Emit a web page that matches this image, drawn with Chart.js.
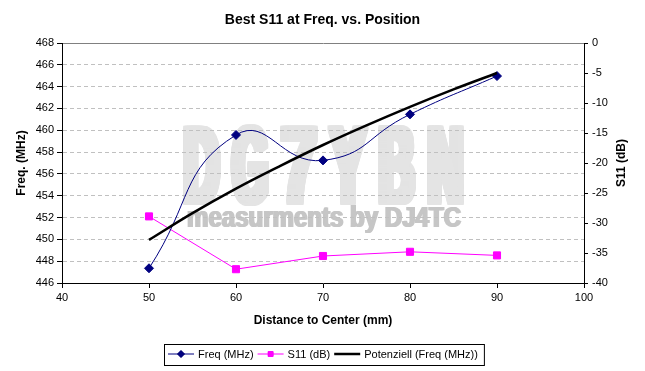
<!DOCTYPE html>
<html><head><meta charset="utf-8">
<script src="https://cdn.jsdelivr.net/npm/chart.js@4"></script>
<style>html,body{margin:0;padding:0;background:#fff}</style>
</head><body>
<canvas id="c" width="645" height="371"></canvas>
<script>
const distances = [50, 60, 70, 80, 90];
const freqMHz = [447.35, 459.57, 457.24, 461.46, 464.97];
const s11dB = [-28.9, -37.7, -35.5, -34.8, -35.4];
const trendDistances = [50, 55, 60, 65, 70, 75, 80, 85, 90];
const trendFreq = [449.95, 452.4, 454.65, 456.7, 458.65, 460.45, 462.15, 463.75, 465.25];
const titleText = 'Best S11 at Freq. vs. Position';
const xTitle = 'Distance to Center (mm)';
const yTitle = 'Freq. (MHz)';
const y2Title = 'S11 (dB)';
const legendNames = ['Freq (MHz)', 'S11 (dB)', 'Potenziell (Freq (MHz))'];
const watermark1 = 'DG7YBN';
const watermark2 = 'measurments by DJ4TC';

const FONT = "'Liberation Sans', Arial, sans-serif";
const pts = (xs, ys) => xs.map((x, i) => ({x: x, y: ys[i]}));

function heavyText(ctx, text, font, color, left, baseline, width, spreadX, spreadY) {
  ctx.save();
  ctx.textBaseline = 'alphabetic';
  ctx.textAlign = 'left';
  ctx.font = font;
  const w = ctx.measureText(text).width;
  ctx.fillStyle = color;
  const sx = (width - 2 * spreadX) / w;
  for (let dx = -spreadX; dx <= spreadX; dx += 1) {
    for (let dy = -spreadY; dy <= spreadY; dy += 1) {
      ctx.setTransform(sx, 0, 0, 1, left + spreadX + dx, baseline + dy);
      ctx.fillText(text, 0, 0);
    }
  }
  ctx.restore();
}

const watermarkPlugin = {
  id: 'wm',
  beforeDraw(chart) {
    const ctx = chart.ctx;
    const chars = watermark1.split('');
    const slot = 48.8, glyphW = 43;
    chars.forEach((ch, i) => {
      heavyText(ctx, ch, 'bold 110px ' + FONT, '#e4e4e4', 180 + i * slot, 203, glyphW, 4, 2);
    });
    heavyText(ctx, watermark2, 'bold 30px ' + FONT, '#c6c6c6', 186, 227, 276, 1, 0);
  }
};

const extrasPlugin = {
  id: 'extras',
  afterDraw(chart) {
    const ctx = chart.ctx;
    const ca = chart.chartArea;
    ctx.save();
    ctx.font = 'bold 12px ' + FONT;
    ctx.fillStyle = '#000';
    ctx.textAlign = 'center';
    ctx.textBaseline = 'middle';
    ctx.translate(622, (ca.top + ca.bottom) / 2);
    ctx.rotate(-Math.PI / 2);
    ctx.fillText(y2Title, 0, 0);
    ctx.restore();

    ctx.save();
    ctx.font = '11px ' + FONT;
    ctx.textBaseline = 'middle';
    ctx.textAlign = 'left';
    const cy = 354;
    const ds = chart.data.datasets;
    const legendRadius = [3.5, 3.5, 0];
    let x = 168;
    const lineLen = 26;
    const boxLeft = 164;
    for (let i = 0; i < ds.length; i++) {
      const d = ds[i];
      ctx.strokeStyle = d.borderColor;
      ctx.lineWidth = i === 2 ? 2.5 : 1;
      ctx.beginPath();
      ctx.moveTo(x, cy); ctx.lineTo(x + lineLen, cy); ctx.stroke();
      if (legendRadius[i] > 0) {
        Chart.helpers.drawPoint(ctx, {pointStyle: d.pointStyle, radius: legendRadius[i], borderWidth: 1, rotation: 0}, x + lineLen / 2, cy);
        ctx.fillStyle = d.pointBackgroundColor;
        ctx.fill();
      }
      x += lineLen + 4;
      ctx.fillStyle = '#000';
      ctx.fillText(legendNames[i], x, cy + 0.5);
      x += ctx.measureText(legendNames[i]).width + 4;
    }
    ctx.strokeStyle = '#000';
    ctx.lineWidth = 1;
    ctx.strokeRect(boxLeft + 0.5, 344.5, Math.max(x + 2, 480) - boxLeft, 21);
    ctx.restore();
  }
};

new Chart(document.getElementById('c'), {
  type: 'line',
  data: {
    datasets: [
      {
        label: legendNames[0], data: pts(distances, freqMHz), yAxisID: 'y',
        borderColor: '#000080', backgroundColor: '#000080', borderWidth: 1,
        pointStyle: 'rectRot', pointRadius: 4.5, pointBackgroundColor: '#000080', pointBorderColor: '#000080',
        tension: 0.5, order: 2
      },
      {
        label: legendNames[1], data: pts(distances, s11dB), yAxisID: 'y2',
        borderColor: '#ff00ff', backgroundColor: '#ff00ff', borderWidth: 1,
        pointStyle: 'rect', pointRadius: 5, pointBackgroundColor: '#ff00ff', pointBorderColor: '#ff00ff',
        tension: 0, order: 3
      },
      {
        label: legendNames[2], data: pts(trendDistances, trendFreq), yAxisID: 'y',
        borderColor: '#000000', backgroundColor: '#000000', borderWidth: 2.5,
        pointRadius: 0, pointStyle: false, tension: 0.4, order: 1
      }
    ]
  },
  options: {
    responsive: false,
    animation: false,
    layout: {padding: 0},
    plugins: {
      legend: {display: false},
      tooltip: {enabled: false},
      title: {
        display: true, text: titleText, color: '#000',
        font: {family: FONT, size: 14, weight: 'bold'},
        padding: {top: 12, bottom: 14.2}
      }
    },
    scales: {
      x: {
        type: 'linear', min: 40, max: 100,
        ticks: {stepSize: 10, color: '#000', font: {family: FONT, size: 11}, padding: 3, maxRotation: 0},
        grid: {drawOnChartArea: false, drawTicks: true, tickLength: 5, tickColor: '#000'},
        border: {color: '#000', width: 1},
        title: {display: true, text: xTitle, color: '#000', font: {family: FONT, size: 12, weight: 'bold'}, padding: {top: 0, bottom: 42.8}},
        afterFit(s) { s.height = 88; }
      },
      y: {
        position: 'left', min: 446, max: 468,
        ticks: {stepSize: 2, color: '#000', font: {family: FONT, size: 11}, padding: 3},
        grid: {
          drawOnChartArea: true, drawTicks: true, tickLength: 5, tickColor: '#000',
          color: (c) => (c.tick && c.tick.value === 468) ? '#808080' : (c.tick && c.tick.value === 446 ? 'rgba(0,0,0,0)' : '#c0c0c0'),
          lineWidth: 1
        },
        border: {color: '#000', width: 1, dash: (c) => (c.tick && c.tick.value === 468) ? [] : [4, 3]},
        title: {display: true, text: yTitle, color: '#000', font: {family: FONT, size: 12, weight: 'bold'}, padding: {top: 14.8, bottom: 0}},
        afterFit(s) { s.width = 62; }
      },
      y2: {
        position: 'right', min: -40, max: 0,
        ticks: {stepSize: 5, color: '#000', font: {family: FONT, size: 11}, padding: 4},
        grid: {drawOnChartArea: false, drawTicks: true, tickLength: 4, tickColor: '#000'},
        border: {color: '#000', width: 1},
        title: {display: false},
        afterFit(s) { s.width = 61; }
      }
    }
  },
  plugins: [watermarkPlugin, extrasPlugin]
});
</script>
</body></html>
